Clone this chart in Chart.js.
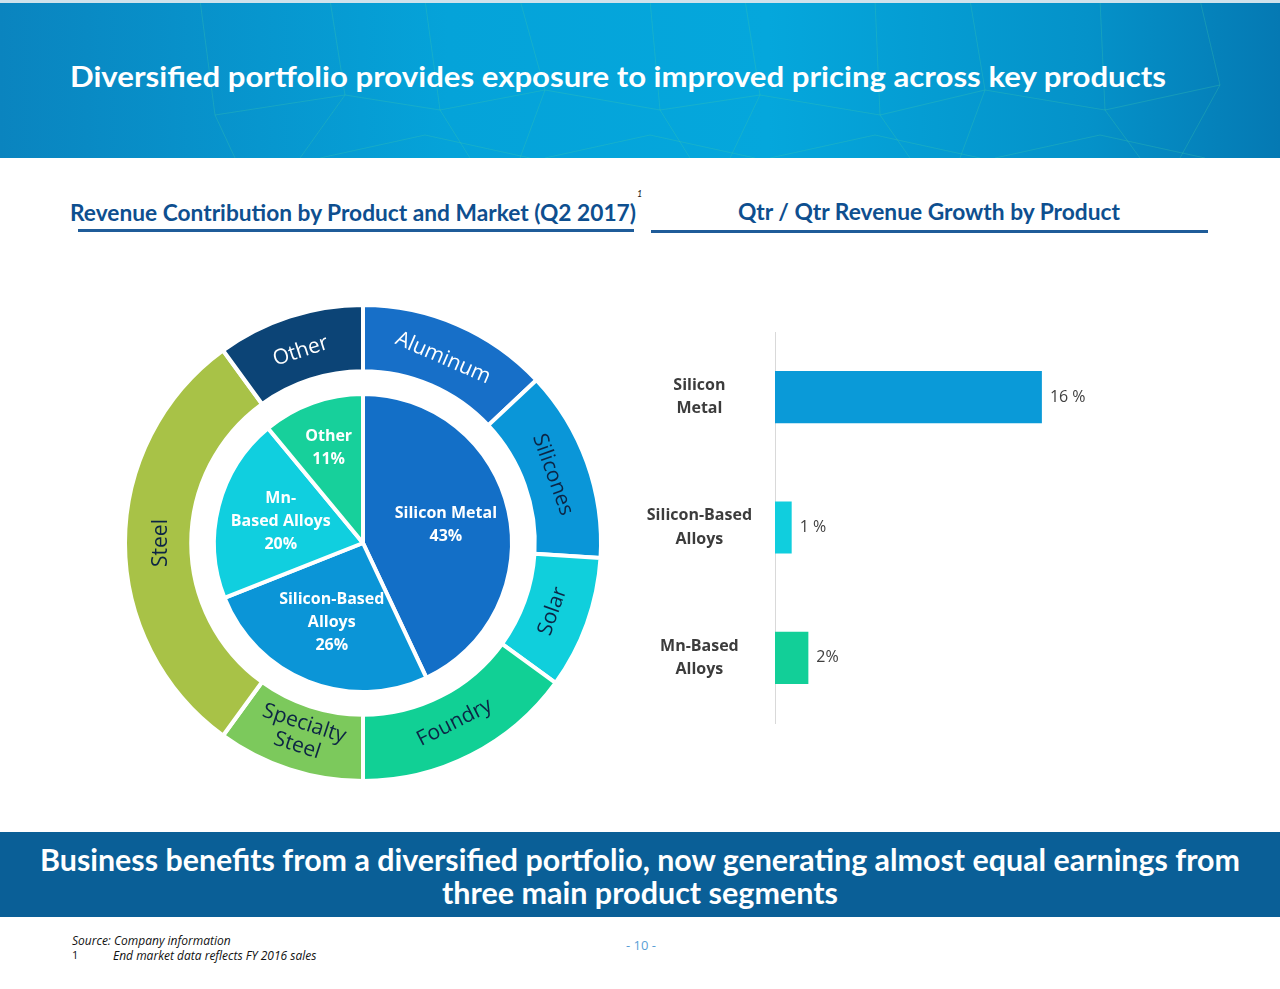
<!DOCTYPE html>
<html>
<head>
<meta charset="utf-8">
<script src="https://cdn.jsdelivr.net/npm/chart.js@4.4.1/dist/chart.umd.min.js"></script>
<style>
html,body{margin:0;padding:0;width:1280px;height:989px;overflow:hidden;background:#fff;font-family:Lato,'Open Sans',sans-serif;}
#header{position:absolute;left:0;top:0;width:1280px;height:158px;
  background:linear-gradient(90deg,#0a84bf 0%,#05a3d9 35%,#05a7dc 60%,#0592c9 85%,#0579b3 100%);}
#header .topline{position:absolute;left:0;top:0;width:1280px;height:3px;background:#cfe2ec;}
#header svg{position:absolute;left:0;top:0;}
.fit{position:absolute;white-space:nowrap;transform-origin:0 50%;line-height:1;}
#title{left:70px;top:61px;color:#fff;font-weight:700;font-size:29px;}
.sub{color:#0e4f8f;font-weight:700;font-size:22px;}
#subL{left:70px;top:202px;}
#subR{left:738px;top:201px;}
#sup{position:absolute;left:637px;top:188px;font-size:9px;color:#222;font-style:italic;}
.rule{position:absolute;height:3px;background:#1f5c99;}
#band{position:absolute;left:0;top:832px;width:1280px;height:85px;background:#0a5f97;}
.bandtxt{color:#fff;font-weight:700;font-size:30px;}
#b1{top:844px;left:40px;}
#b2{top:877px;left:442px;}
.foot{position:absolute;font-style:italic;font-size:12px;color:#111;font-family:'Open Sans',sans-serif;}
#page{position:absolute;left:626px;top:936px;font-size:13px;color:#5a9fd6;font-family:'Open Sans',sans-serif;}
canvas{position:absolute;}
</style>
</head>
<body>
<div id="header">
  <svg width="1280" height="158" viewBox="0 0 1280 158">
    <g fill="none" stroke="rgba(70,205,170,0.28)" stroke-width="1">
      <polyline points="200,0 215,115 235,158"/>
      <polyline points="330,0 345,95 300,158"/>
      <polyline points="425,0 440,110 470,158"/>
      <polyline points="520,0 545,90 520,158"/>
      <polyline points="650,0 660,110 690,158"/>
      <polyline points="745,0 760,95 730,158"/>
      <polyline points="875,0 880,115 910,158"/>
      <polyline points="970,0 985,90 960,158"/>
      <polyline points="1100,0 1105,110 1140,158"/>
      <polyline points="1200,0 1220,85 1180,158"/>
      <polyline points="1330,0 1325,120"/>
      <polyline points="215,115 345,95 440,110 545,90 660,110 760,95 880,115 985,90 1105,110 1220,85"/>
      <polyline points="320,158 425,135 530,158"/>
      <polyline points="545,158 650,135 755,158"/>
      <polyline points="770,158 875,135 980,158"/>
      <polyline points="995,158 1100,135 1205,158"/>
    </g>
  </svg>
  <div class="topline"></div>
  <div id="title" class="fit" data-w="1096">Diversified portfolio provides exposure to improved pricing across key products</div>
</div>

<div id="subL" class="fit sub" data-w="566">Revenue Contribution by Product and Market (Q2 2017)</div>
<div id="sup">1</div>
<div class="rule" style="left:78px;top:229px;width:556px;"></div>
<div id="subR" class="fit sub" data-w="382">Qtr / Qtr Revenue Growth by Product</div>
<div class="rule" style="left:651px;top:230px;width:557px;"></div>

<canvas id="outer" width="500" height="500" style="left:113px;top:293px;width:500px;height:500px;"></canvas>
<canvas id="inner" width="500" height="500" style="left:113px;top:293px;width:500px;height:500px;"></canvas>
<canvas id="bars" width="600" height="411" style="left:620px;top:322px;width:600px;height:411px;"></canvas>

<div id="band"></div>
<div id="b1" class="fit bandtxt" data-w="1200">Business benefits from a diversified portfolio, now generating almost equal earnings from</div>
<div id="b2" class="fit bandtxt" data-w="396">three main product segments</div>

<div class="foot" style="left:72px;top:932px;">Source: Company information</div>
<div class="foot" style="left:72px;top:947px;font-style:normal;font-size:11px;">1</div>
<div class="foot" style="left:113px;top:947px;">End market data reflects FY 2016 sales</div>
<div id="page">- 10 -</div>

<script>
// ---------- DATA ----------
const productLabels = ['Silicon Metal', 'Silicon-Based Alloys', 'Mn-Based Alloys', 'Other'];
const productShares = [43, 26, 20, 11];
const productLabelLines = [['Silicon Metal'], ['Silicon-Based', 'Alloys'], ['Mn-', 'Based Alloys'], ['Other']];

const marketLabels = ['Aluminum', 'Silicones', 'Solar', 'Foundry', 'Specialty Steel', 'Steel', 'Other'];
const marketShares = [13, 13, 9, 15, 10, 30, 10];
const marketLabelLines = [['Aluminum'], ['Silicones'], ['Solar'], ['Foundry'], ['Specialty', 'Steel'], ['Steel'], ['Other']];

const growthCategories = [['Silicon', 'Metal'], ['Silicon-Based', 'Alloys'], ['Mn-Based', 'Alloys']];
const growthValues = [16, 1, 2];
const growthValueLabels = ['16 %', '1 %', '2%'];

// ---------- STYLES ----------
const productColors = ['#136fc7', '#0b95d7', '#10cfdf', '#17d09b'];
const marketColors = ['#176fc8', '#0a96d8', '#10cfdc', '#11d095', '#7cc95c', '#a8c247', '#0c4476'];
const marketTextColors = ['#ffffff', '#0c2545', '#0c2545', '#0c2545', '#0c2545', '#0c2545', '#ffffff'];
const growthColors = ['#0a9ad8', '#10cede', '#12cf98'];

// fit text widths
document.querySelectorAll('.fit').forEach(el => {
  const target = +el.dataset.w;
  const w = el.getBoundingClientRect().width;
  if (w > 0) el.style.transform = 'scaleX(' + (target / w) + ')';
});

const outerLabelPlugin = {
  id: 'outerLabels',
  afterDatasetsDraw(chart) {
    const ctx = chart.ctx;
    const meta = chart.getDatasetMeta(0);
    meta.data.forEach((arc, i) => {
      const p = arc.getProps(['startAngle', 'endAngle', 'innerRadius', 'outerRadius', 'x', 'y'], true);
      const mid = (p.startAngle + p.endAngle) / 2;
      const r = p.innerRadius + (p.outerRadius - p.innerRadius) * 0.45;
      const px = p.x + Math.cos(mid) * r, py = p.y + Math.sin(mid) * r;
      let theta = mid + Math.PI / 2;
      theta = ((theta % (2 * Math.PI)) + 2 * Math.PI) % (2 * Math.PI);
      const rot = (theta > Math.PI / 2 && theta < 3 * Math.PI / 2 - 0.01) ? theta - Math.PI : theta;
      const lines = marketLabelLines[i];
      ctx.save();
      ctx.translate(px, py);
      ctx.rotate(rot);
      ctx.font = '21px "Open Sans", sans-serif';
      ctx.fillStyle = marketTextColors[i];
      ctx.textAlign = 'center';
      ctx.textBaseline = 'middle';
      const lh = 23;
      lines.forEach((t, k) => ctx.fillText(t, 0, (k - (lines.length - 1) / 2) * lh));
      ctx.restore();
    });
  }
};

const innerLabelPlugin = {
  id: 'innerLabels',
  afterDatasetsDraw(chart) {
    const ctx = chart.ctx;
    const meta = chart.getDatasetMeta(0);
    meta.data.forEach((arc, i) => {
      const p = arc.getProps(['startAngle', 'endAngle', 'outerRadius', 'x', 'y'], true);
      const mid = (p.startAngle + p.endAngle) / 2;
      const r = p.outerRadius * (i === 3 ? 0.68 : 0.57);
      const px = p.x + Math.cos(mid) * r, py = p.y + Math.sin(mid) * r;
      const lines = productLabelLines[i].concat([productShares[i] + '%']);
      ctx.save();
      ctx.font = '700 16px "Open Sans", sans-serif';
      ctx.fillStyle = '#ffffff';
      ctx.textAlign = 'center';
      ctx.textBaseline = 'middle';
      const lh = 23;
      lines.forEach((t, k) => ctx.fillText(t, px, py + (k - (lines.length - 1) / 2) * lh));
      ctx.restore();
    });
  }
};

new Chart(document.getElementById('outer'), {
  type: 'doughnut',
  data: { labels: marketLabels, datasets: [{ data: marketShares, backgroundColor: marketColors, borderColor: '#ffffff', borderWidth: 4 }] },
  options: {
    responsive: false, animation: false, radius: 238, cutout: 179,
    plugins: { legend: { display: false }, tooltip: { enabled: false } },
    events: []
  },
  plugins: [outerLabelPlugin]
});

new Chart(document.getElementById('inner'), {
  type: 'pie',
  data: { labels: productLabels, datasets: [{ data: productShares, backgroundColor: productColors, borderColor: '#ffffff', borderWidth: 4 }] },
  options: {
    responsive: false, animation: false, radius: 149,
    plugins: { legend: { display: false }, tooltip: { enabled: false } },
    events: []
  },
  plugins: [innerLabelPlugin]
});

const barLabelPlugin = {
  id: 'barLabels',
  afterDatasetsDraw(chart) {
    const ctx = chart.ctx;
    const meta = chart.getDatasetMeta(0);
    ctx.save();
    ctx.font = '16px "Open Sans", sans-serif';
    ctx.fillStyle = '#404040';
    ctx.textAlign = 'left';
    ctx.textBaseline = 'middle';
    meta.data.forEach((bar, i) => {
      ctx.fillText(growthValueLabels[i], bar.x + 8, bar.y);
    });
    ctx.restore();
  }
};

new Chart(document.getElementById('bars'), {
  type: 'bar',
  data: {
    labels: growthCategories,
    datasets: [{ data: growthValues, backgroundColor: growthColors, barPercentage: 0.8, categoryPercentage: 0.5 }]
  },
  options: {
    indexAxis: 'y', responsive: false, animation: false, events: [],
    layout: { padding: { top: 10, bottom: 10, right: 28, left: 0 } },
    plugins: { legend: { display: false }, tooltip: { enabled: false } },
    scales: {
      x: { display: false, min: 0, max: 25 },
      y: {
        grid: { display: false, drawTicks: false },
        border: { display: true, color: '#d9d9d9', width: 1 },
        ticks: { crossAlign: 'center', padding: 23, color: '#3c3c3c', font: { family: 'Open Sans', size: 16, weight: 'bold', lineHeight: 1.45 } },
        afterFit(s) { s.width = 155; s.paddingTop = 0; s.paddingBottom = 0; }
      }
    }
  },
  plugins: [barLabelPlugin]
});
</script>
</body>
</html>
